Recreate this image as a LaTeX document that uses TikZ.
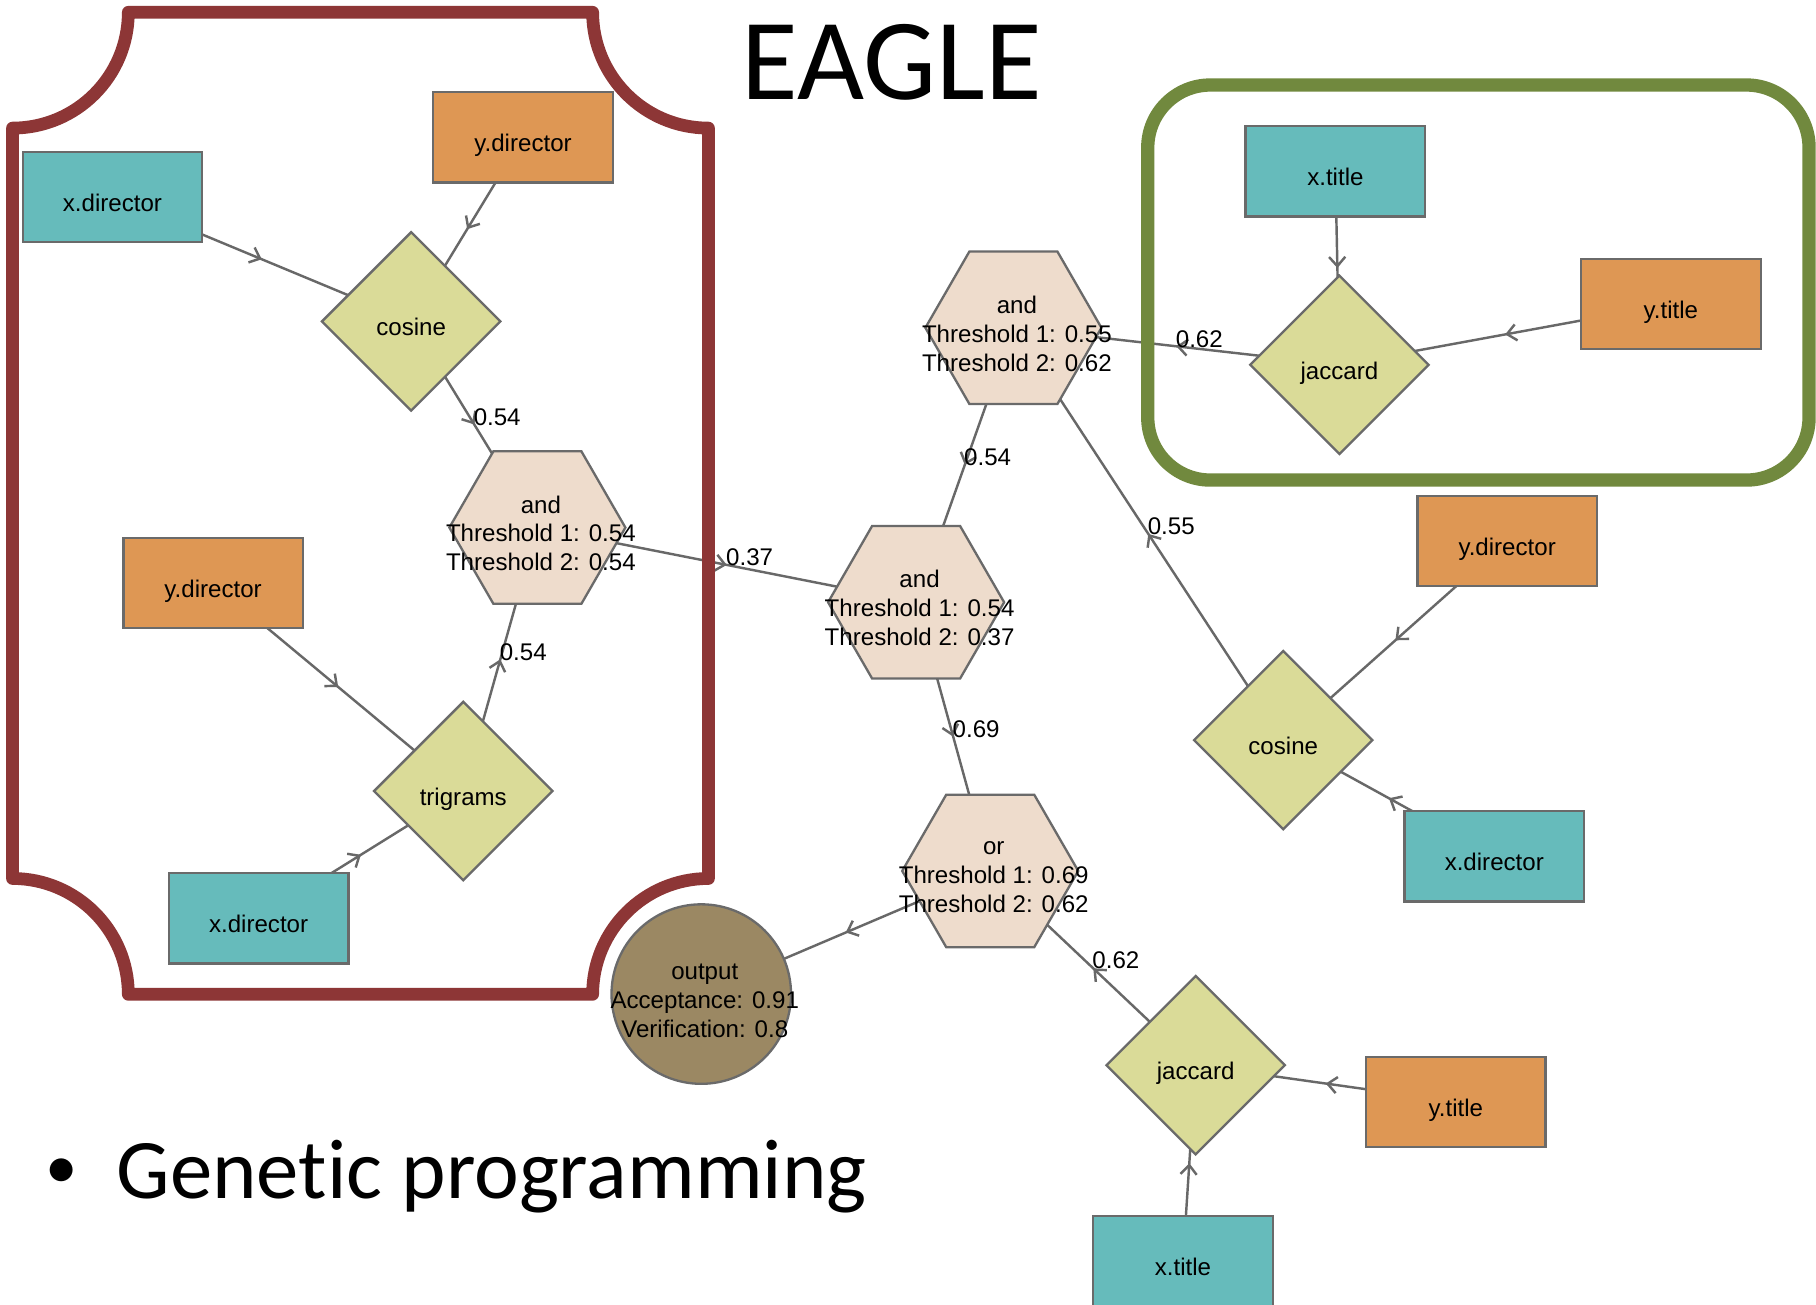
\documentclass[tikz,border=0pt]{standalone}
\usepackage{fontspec}
\setmainfont{Liberation Sans}
\newfontfamily\slidefont[Ligatures={NoCommon,NoContextual}]{Carlito}
\usetikzlibrary{shapes.geometric,arrows.meta,decorations.markings,backgrounds}
\definecolor{xteal}{HTML}{66BBBB}
\definecolor{yorange}{HTML}{DE9754}
\definecolor{dfill}{HTML}{DADB98}
\definecolor{hfill}{HTML}{EEDCCC}
\definecolor{ofill}{HTML}{9B8863}
\definecolor{edgegray}{HTML}{686868}
\definecolor{bordergray}{HTML}{6A6A6A}
\definecolor{framered}{HTML}{8D3636}
\definecolor{framegreen}{HTML}{71893E}
\newcommand\gpfont{\fontsize{10.4pt}{12.5pt}\selectfont}
\begin{document}
\begin{tikzpicture}[x=0.5pt,y=-0.5pt,
  nodebase/.style={draw=bordergray,line width=1pt,font=\gpfont,inner sep=0pt,outer sep=0pt},
  xbox/.style={nodebase,rectangle,fill=xteal,minimum width=77.5pt,minimum height=39pt,text height=12.5pt,text depth=0pt},
  ybox/.style={xbox,fill=yorange},
  sim/.style={nodebase,diamond,fill=dfill,minimum width=77pt,minimum height=77pt,text height=12.5pt,text depth=0pt},
  agg/.style={nodebase,regular polygon,regular polygon sides=6,fill=hfill,minimum size=76pt},
  outn/.style={nodebase,circle,fill=ofill,minimum size=77.5pt},
  txt/.style={font=\gpfont,align=center,inner sep=0pt,text=black},
  link/.style={color=edgegray,line width=1.05pt,postaction={decorate},
    decoration={markings,mark=at position 0.5 with {\arrow{Straight Barb[length=4pt,width=7pt]}}}},
  wt/.style={pos=0.5,anchor=west,inner sep=0pt,font=\gpfont,text=black,xshift=-0.75pt,yshift=3.25pt},
  boxframe/.style={line width=5.5pt,line join=round}
]
\useasboundingbox (0,0) rectangle (1568,1126);

% left group
\node[xbox] (a1) at (97.1,170.2) {x.director};
\node[ybox] (a2) at (451.6,118.5) {y.director};
\node[sim]  (d1) at (355,277.5) {cosine};
\node[ybox] (a3) at (184,503.3) {y.director};
\node[sim]  (d2) at (400,683) {trigrams};
\node[xbox] (a4) at (223.3,793) {x.director};
\node[agg]  (h1) at (464,455.5) {};
\node[txt]  (h1t) at ([xshift=1.5pt,yshift=-2.5pt]h1.center) {and\\Threshold 1: 0.54\\Threshold 2: 0.54};

% centre
\node[agg]  (h2) at (875,283) {};
\node[txt]  (h2t) at ([xshift=1.5pt,yshift=-2.5pt]h2.center) {and\\Threshold 1: 0.55\\Threshold 2: 0.62};
\node[agg]  (h3) at (791,520) {};
\node[txt]  (h3t) at ([xshift=1.5pt,yshift=-2.5pt]h3.center) {and\\Threshold 1: 0.54\\Threshold 2: 0.37};
\node[agg]  (h4) at (855,752) {};
\node[txt]  (h4t) at ([xshift=1.5pt,yshift=-2.5pt]h4.center) {or\\Threshold 1: 0.69\\Threshold 2: 0.62};
\node[outn] (out) at (605.5,858.3) {};
\node[txt]  (outt) at ([xshift=1.5pt,yshift=-2.75pt]out.center) {output\\Acceptance: 0.91\\Verification: 0.8};

% right group
\node[xbox] (a5) at (1153,147.8) {x.title};
\node[ybox] (a6) at (1442.7,262.5) {y.title};
\node[sim]  (d3) at (1156.5,315) {jaccard};
\node[ybox] (a7) at (1301.3,467) {y.director};
\node[sim]  (d4) at (1108,639) {cosine};
\node[xbox] (a8) at (1290.2,739.3) {x.director};
\node[sim]  (d5) at (1032.4,919.7) {jaccard};
\node[ybox] (a9) at (1257,951.4) {y.title};
\node[xbox] (a10) at (1021.4,1089) {x.title};

% slide texts
\node[font=\slidefont\fontsize{50pt}{60pt}\selectfont,anchor=base,inner sep=0pt] (title) at (770,85.8) {EAGLE};
\node[font=\slidefont\fontsize{28pt}{34pt}\selectfont,anchor=base,inner sep=0pt] (bul) at (52.8,1026) {•};
\node[font=\slidefont\fontsize{36.6pt}{44pt}\selectfont,anchor=base west,inner sep=0pt] (gp) at (100.4,1034.8) {Genetic programming};

\begin{pgfonlayer}{background}
\fill[white] (0,0) rectangle (1568,1126);
\draw[link] (a1.center) -- (d1.center);
\draw[link] (a2.center) -- (d1.center);
\draw[link] (d1.center) -- node[wt]{0.54} (h1.center);
\draw[link] (a3.center) -- (d2.center);
\draw[link] (a4.center) -- (d2.center);
\draw[link] (d2.center) -- node[wt]{0.54} (h1.center);
\draw[link] (h1.center) -- node[wt]{0.37} (h3.center);
\draw[link] (h2.center) -- node[wt]{0.54} (h3.center);
\draw[link] (d3.center) -- node[wt]{0.62} (h2.center);
\draw[link] (a5.center) -- (d3.center);
\draw[link] (a6.center) -- (d3.center);
\draw[link] (d4.center) -- node[wt]{0.55} (h2.center);
\draw[link] (a7.center) -- (d4.center);
\draw[link] (a8.center) -- (d4.center);
\draw[link] (h3.center) -- node[wt]{0.69} (h4.center);
\draw[link] (h4.center) -- (out.center);
\draw[link] (d5.center) -- node[wt]{0.62} (h4.center);
\draw[link] (a9.center) -- (d5.center);
\draw[link] (a10.center) -- (d5.center);
\end{pgfonlayer}

% frames
\draw[boxframe,framered] (10.8,110.6) .. controls (66,110.6) and (110.8,65.8) .. (110.8,10.6)
  -- (511.7,10.6) .. controls (511.7,65.8) and (556.5,110.6) .. (611.7,110.6)
  -- (611.7,758.5) .. controls (556.5,758.5) and (511.7,803.3) .. (511.7,858.5)
  -- (110.8,858.5) .. controls (110.8,803.3) and (66,758.5) .. (10.8,758.5) -- cycle;
\draw[boxframe,framegreen,line width=5.75pt,rounded corners=27pt] (991,73.4) rectangle (1562,414.5);
\end{tikzpicture}
\end{document}
